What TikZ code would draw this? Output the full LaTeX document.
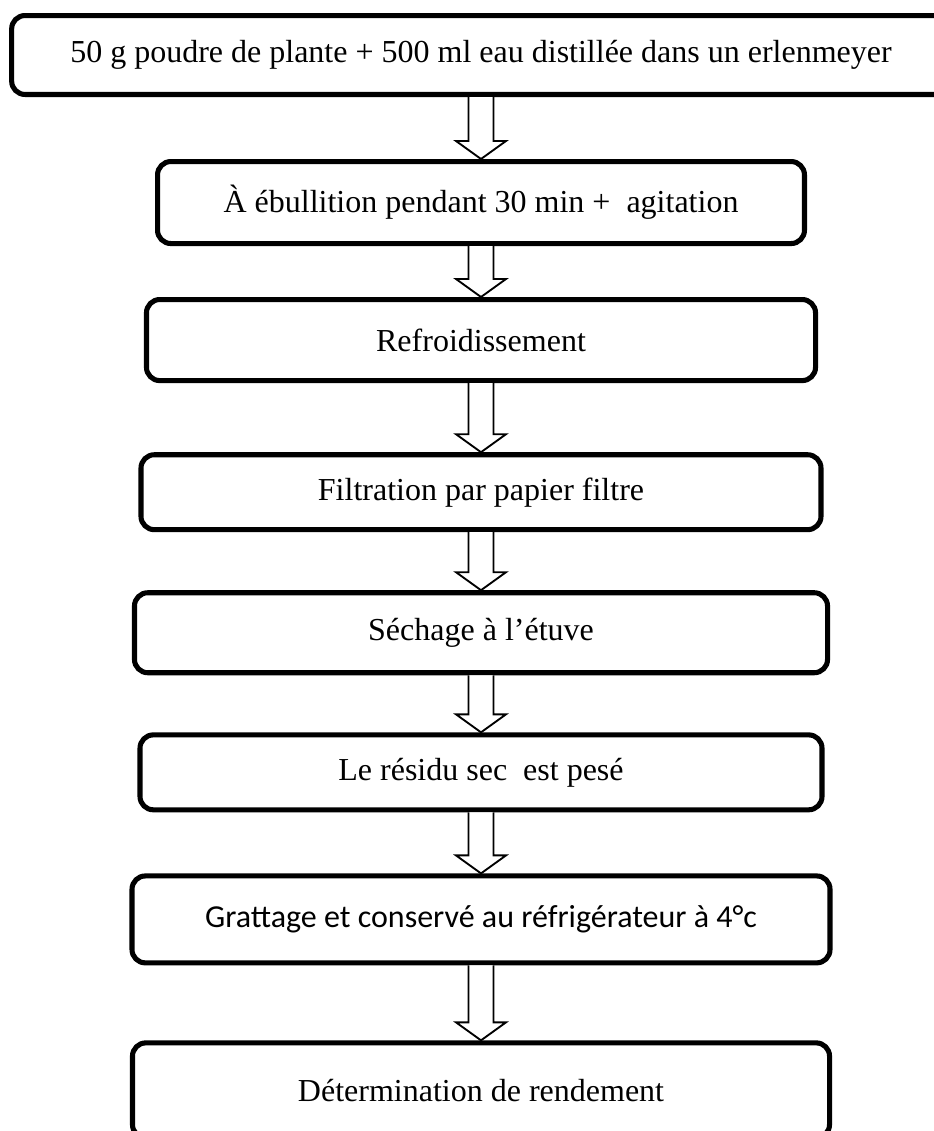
\documentclass[tikz,border=0pt]{standalone}
\usepackage{fontspec}
\setmainfont{Liberation Serif}
\newfontfamily\calibrifont{Carlito}
\usetikzlibrary{positioning,calc}

\begin{document}
\begin{tikzpicture}[x=0.375pt, y=0.375pt,
  stepbox/.style={draw, line width=1.9pt, rounded corners=5pt, inner sep=0pt, font=\fontsize{12}{14}\selectfont},
  hollow/.style={draw, fill=white, line width=0.7pt, line join=miter}]
  \useasboundingbox (0,0) rectangle (934,-1131);

  \node[stepbox, minimum width=352pt, minimum height=29.6pt] (b1) at (481,-55) {50 g poudre de plante + 500 ml eau distillée dans un erlenmeyer};
  \node[stepbox, minimum width=242.6pt, minimum height=30.75pt, below=23.25pt of b1] (b2) {À ébullition pendant 30 min + \ agitation};
  \node[stepbox, minimum width=250.9pt, minimum height=30.4pt, below=19.1pt of b2] (b3) {Refroidissement};
  \node[stepbox, minimum width=255pt, minimum height=28.1pt, below=25.9pt of b3] (b4) {Filtration par papier filtre};
  \node[stepbox, minimum width=259.9pt, minimum height=30pt, below=21.75pt of b4] (b5) {Séchage à l’étuve};
  \node[stepbox, minimum width=255.75pt, minimum height=28.1pt, below=21.4pt of b5] (b6) {Le résidu sec \ est pesé};
  \node[stepbox, minimum width=261.75pt, minimum height=32.6pt, below=22.9pt of b6, font=\calibrifont\fontsize{12}{14}\selectfont] (b7) {Grattage et conservé au réfrigérateur à 4°c};
  \node[stepbox, minimum width=261.4pt, minimum height=35.6pt, below=28.1pt of b7] (b8) {Détermination de rendement};

  \foreach \a/\b in {b1/b2, b2/b3, b3/b4, b4/b5, b5/b6, b6/b7, b7/b8}
    \draw[hollow] ($(\a.south)+(-12.5,0)$) -- ($(\b.north)+(-12.5,18)$) -- ($(\b.north)+(-25,18)$) -- (\b.north)
      -- ($(\b.north)+(25,18)$) -- ($(\b.north)+(12.5,18)$) -- ($(\a.south)+(12.5,0)$);
\end{tikzpicture}
\end{document}
